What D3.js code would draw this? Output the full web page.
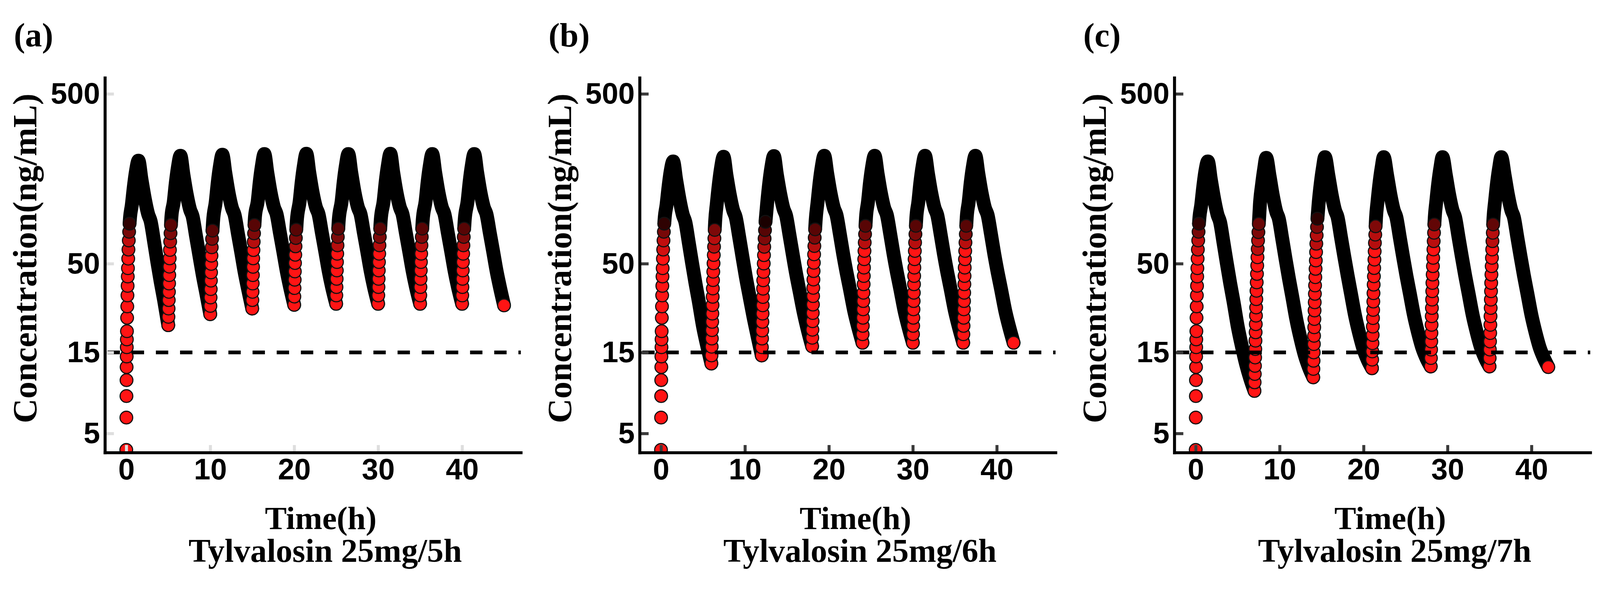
<!DOCTYPE html>
<html>
<head>
<meta charset="utf-8">
<script src="https://cdn.jsdelivr.net/npm/d3@7"></script>
<style>
  html, body { margin: 0; padding: 0; background: #fff; overflow: hidden; }
  svg { display: block; width: 100vw; height: 100vh; }
</style>
</head>
<body>
<script>
// ---- values ----
const panelTags = ["(a)", "(b)", "(c)"];
const regimens = ["Tylvalosin 25mg/5h", "Tylvalosin 25mg/6h", "Tylvalosin 25mg/7h"];
const xTitle = "Time(h)";
const yTitle = "Concentration(ng/mL)";
const yTickValues = [5, 15, 50, 500];
const xTickValues = [0, 10, 20, 30, 40];
const micLevel = 15;

// [time (h), concentration (ng/mL)] — dosing every 5 h
const seriesA = [
  [0,4.0],[0.01,6.2],[0.02,8.3],[0.03,10.3],[0.04,12.3],[0.05,14.2],[0.06,16.1],[0.07,17.9],[0.08,20],[0.10,24],[0.12,28],[0.14,32.5],[0.16,37],[0.18,42],[0.20,47],[0.23,53.5],[0.26,60.5],[0.30,68.5],[0.34,77],[0.39,86],[0.45,94],
  [0.65,110],[0.9,142],[1.15,175],[1.45,202],[1.8,158],[2.2,121],[2.6,98],[2.9,89],[3.3,68],[3.7,51],[4.1,39],[4.5,30.5],
  [5,21.7],[5.02,24.3],[5.04,27.2],[5.06,30.5],[5.08,34.1],[5.10,38.2],[5.12,42.8],[5.14,48],[5.17,53.7],[5.20,60.2],[5.23,67.4],[5.27,75.5],[5.32,84.5],[5.38,94.7],
  [5.65,115],[5.9,150],[6.15,185],[6.45,216],[6.8,168],[7.2,128],[7.6,104],[7.9,95],[8.3,73],[8.7,56],[9.1,43],[9.5,34],
  [10,25.2],[10.02,28.2],[10.04,31.6],[10.06,35.4],[10.08,39.7],[10.10,44.4],[10.12,49.8],[10.15,55.7],[10.18,62.4],[10.22,69.9],[10.27,78.3],[10.33,87.7],
  [10.65,115],[10.9,151],[11.15,187],[11.45,219],[11.8,171],[12.2,130],[12.6,106],[12.9,97],[13.3,75],[13.7,58],[14.1,44.5],[14.5,35.5],
  [15,27.2],[15.02,30.5],[15.04,34.1],[15.06,38.2],[15.08,42.8],[15.10,47.9],[15.12,53.7],[15.15,60.1],[15.18,67.3],[15.22,75.4],[15.27,84.5],[15.33,94.6],
  [15.65,116],[15.9,152],[16.15,188],[16.45,221],[16.8,172],[17.2,131],[17.6,107],[17.9,98],[18.3,76],[18.7,59],[19.1,45.5],[19.5,36.5],
  [20,28.6],[20.02,32],[20.04,35.9],[20.06,40.2],[20.08,45],[20.10,50.4],[20.13,56.4],[20.16,63.2],[20.20,70.8],[20.25,79.3],[20.31,88.8],
  [20.65,116],[20.9,152],[21.15,188],[21.45,222],[21.8,172],[22.2,131],[22.6,107],[22.9,98],[23.3,76],[23.7,59],[24.1,45.5],[24.5,36.5],
  [25,29],[25.02,32.5],[25.04,36.4],[25.06,40.7],[25.08,45.6],[25.10,51.1],[25.13,57.2],[25.16,64.1],[25.20,71.8],[25.25,80.4],[25.31,90],
  [25.65,116],[25.9,152],[26.15,188],[26.45,221],[26.8,172],[27.2,131],[27.6,107],[27.9,98],[28.3,76],[28.7,59],[29.1,45.5],[29.5,36.5],
  [30,29],[30.02,32.5],[30.04,36.4],[30.06,40.7],[30.08,45.6],[30.10,51.1],[30.13,57.2],[30.16,64.1],[30.20,71.8],[30.25,80.4],[30.31,90],
  [30.65,116],[30.9,152],[31.15,188],[31.45,222],[31.8,172],[32.2,131],[32.6,107],[32.9,98],[33.3,76],[33.7,59],[34.1,45.5],[34.5,36.5],
  [35,29],[35.02,32.5],[35.04,36.4],[35.06,40.7],[35.08,45.6],[35.10,51.1],[35.13,57.2],[35.16,64.1],[35.20,71.8],[35.25,80.4],[35.31,90],
  [35.65,116],[35.9,152],[36.15,188],[36.45,221],[36.8,172],[37.2,131],[37.6,107],[37.9,98],[38.3,76],[38.7,59],[39.1,45.5],[39.5,36.5],
  [40,29],[40.02,32.5],[40.04,36.4],[40.06,40.7],[40.08,45.6],[40.10,51.1],[40.13,57.2],[40.16,64.1],[40.20,71.8],[40.25,80.4],[40.31,90],
  [40.65,116],[40.9,152],[41.15,188],[41.45,221],[41.8,172],[42.2,131],[42.6,107],[42.9,98],[43.3,76],[43.7,59],[44.1,45.5],[44.5,36.5],
  [45,28.4]
];

// dosing every 6 h
const seriesB = [
  [0,4.0],[0.01,6.2],[0.02,8.3],[0.03,10.3],[0.04,12.3],[0.05,14.2],[0.06,16.1],[0.07,17.9],[0.08,20],[0.10,24],[0.12,28],[0.14,32.5],[0.16,37],[0.18,42],[0.20,47],[0.23,53.5],[0.26,60.5],[0.30,68.5],[0.34,77],[0.39,86],[0.45,94],
  [0.65,110],[0.9,142],[1.15,175],[1.45,200],[1.8,157],[2.2,120],[2.6,97],[2.9,88],[3.3,67],[3.7,50.5],[4.1,38.5],[4.5,30],[5.0,21.4],[5.5,16.4],
  [6,12.9],[6.02,14.4],[6.04,16.2],[6.06,18.1],[6.08,20.3],[6.10,22.7],[6.12,25.4],[6.14,28.5],[6.16,31.9],[6.18,35.7],[6.20,40],[6.23,44.8],[6.26,50.2],[6.29,56.2],[6.32,62.9],[6.36,70.5],[6.40,79],[6.45,88.4],
  [6.65,113],[6.9,148],[7.15,183],[7.45,213],[7.8,166],[8.2,127],[8.6,103],[8.9,94],[9.3,72.5],[9.7,55],[10.1,42],[10.5,33],[11.0,24.5],[11.5,18.7],
  [12,14.4],[12.02,16.1],[12.04,18.1],[12.06,20.2],[12.08,22.7],[12.10,25.4],[12.12,28.4],[12.14,31.8],[12.16,35.6],[12.18,39.9],[12.21,44.7],[12.24,50.1],[12.27,56.1],[12.30,62.8],[12.34,70.3],[12.39,78.8],[12.45,88.2],
  [12.65,114],[12.9,150],[13.15,185],[13.45,215],[13.8,168],[14.2,129],[14.6,105],[14.9,96],[15.3,74],[15.7,56.5],[16.1,43.5],[16.5,34.5],[17.0,25.8],[17.5,20.2],
  [18,16.3],[18.02,18.3],[18.04,20.4],[18.06,22.9],[18.08,25.6],[18.10,28.7],[18.12,32.2],[18.14,36],[18.16,40.3],[18.18,45.2],[18.21,50.6],[18.24,56.7],[18.27,63.5],[18.31,71.1],[18.36,79.6],[18.42,89.2],
  [18.65,115],[18.9,151],[19.15,186],[19.45,216],[19.8,170],[20.2,130],[20.6,106],[20.9,97],[21.3,75],[21.7,57],[22.1,44.5],[22.5,35.5],[23.0,26.5],[23.5,21],
  [24,17.1],[24.02,19.2],[24.04,21.5],[24.06,24],[24.08,26.9],[24.10,30.1],[24.12,33.7],[24.14,37.8],[24.16,42.3],[24.18,47.4],[24.21,53.1],[24.24,59.4],[24.27,66.6],[24.31,74.6],[24.36,83.5],[24.42,93.5],
  [24.65,115],[24.9,151],[25.15,186],[25.45,216],[25.8,170],[26.2,130],[26.6,106],[26.9,97],[27.3,75],[27.7,57],[28.1,44.5],[28.5,35.5],[29.0,26.5],[29.5,21],
  [30,17.1],[30.02,19.2],[30.04,21.5],[30.06,24],[30.08,26.9],[30.10,30.1],[30.12,33.7],[30.14,37.8],[30.16,42.3],[30.18,47.4],[30.21,53.1],[30.24,59.4],[30.27,66.6],[30.31,74.6],[30.36,83.5],[30.42,93.5],
  [30.65,115],[30.9,151],[31.15,186],[31.45,216],[31.8,170],[32.2,130],[32.6,106],[32.9,97],[33.3,75],[33.7,57],[34.1,44.5],[34.5,35.5],[35.0,26.5],[35.5,21],
  [36,17.1],[36.02,19.2],[36.04,21.5],[36.06,24],[36.08,26.9],[36.10,30.1],[36.12,33.7],[36.14,37.8],[36.16,42.3],[36.18,47.4],[36.21,53.1],[36.24,59.4],[36.27,66.6],[36.31,74.6],[36.36,83.5],[36.42,93.5],
  [36.65,115],[36.9,151],[37.15,186],[37.45,216],[37.8,170],[38.2,130],[38.6,106],[38.9,97],[39.3,75],[39.7,57],[40.1,44.5],[40.5,35.5],[41.0,26.5],[41.5,21],
  [42,17.1]
];

// dosing every 7 h
const seriesC = [
  [0,4.0],[0.01,6.2],[0.02,8.3],[0.03,10.3],[0.04,12.3],[0.05,14.2],[0.06,16.1],[0.07,17.9],[0.08,20],[0.10,24],[0.12,28],[0.14,32.5],[0.16,37],[0.18,42],[0.20,47],[0.23,53.5],[0.26,60.5],[0.30,68.5],[0.34,77],[0.39,86],[0.45,94],
  [0.65,110],[0.9,142],[1.15,175],[1.45,200],[1.8,157],[2.2,120],[2.6,97],[2.9,88],[3.3,67],[3.7,50.5],[4.1,38.5],[4.5,30],[5.0,21.4],[5.5,16.3],[6.0,12.8],[6.5,10.5],
  [7,8.9],[7.02,10],[7.04,11.2],[7.06,12.5],[7.08,14],[7.10,15.7],[7.12,17.6],[7.14,19.7],[7.16,22],[7.18,24.7],[7.20,27.6],[7.22,30.9],[7.24,34.6],[7.27,38.8],[7.30,43.5],[7.33,48.7],[7.36,54.5],[7.39,61],[7.43,68.4],[7.47,76.6],[7.52,85.8],
  [7.65,112],[7.9,146],[8.15,180],[8.4,210],[8.8,164],[9.2,125],[9.6,101],[9.9,92],[10.3,70.5],[10.7,53.5],[11.1,41],[11.5,32],[12.0,23.3],[12.5,18],[13.0,14.4],[13.5,12.2],
  [14,10.7],[14.02,12],[14.04,13.4],[14.06,15],[14.08,16.8],[14.10,18.8],[14.12,21.1],[14.14,23.6],[14.16,26.5],[14.18,29.6],[14.20,33.2],[14.22,37.2],[14.25,41.6],[14.28,46.6],[14.31,52.2],[14.34,58.5],[14.37,65.5],[14.41,73.4],[14.45,82.2],[14.50,92],
  [14.65,114],[14.9,149],[15.15,183],[15.4,212],[15.8,166],[16.2,127],[16.6,103],[16.9,94],[17.3,72],[17.7,55],[18.1,42.5],[18.5,33.2],[19.0,24.5],[19.5,19.2],[20.0,15.6],[20.5,13.5],
  [21,12.1],[21.02,13.6],[21.04,15.2],[21.06,17],[21.08,19],[21.10,21.3],[21.12,23.9],[21.14,26.7],[21.16,29.9],[21.18,33.5],[21.20,37.6],[21.23,42.1],[21.26,47.1],[21.29,52.8],[21.32,59.1],[21.35,66.2],[21.39,74.1],[21.43,83],[21.48,93],
  [21.65,115],[21.9,150],[22.15,184],[22.4,212],[22.8,166],[23.2,127],[23.6,103],[23.9,94],[24.3,72],[24.7,55],[25.1,42.5],[25.5,33.5],[26.0,24.8],[26.5,19.5],[27.0,15.9],[27.5,13.8],
  [28,12.4],[28.02,13.9],[28.04,15.6],[28.06,17.4],[28.08,19.5],[28.10,21.8],[28.12,24.5],[28.14,27.4],[28.16,30.7],[28.18,34.4],[28.20,38.5],[28.23,43.1],[28.26,48.3],[28.29,54.1],[28.32,60.6],[28.35,67.8],[28.39,76],[28.43,85.1],[28.48,94],
  [28.65,115],[28.9,150],[29.15,184],[29.4,212],[29.8,166],[30.2,127],[30.6,103],[30.9,94],[31.3,72],[31.7,55],[32.1,42.5],[32.5,33.5],[33.0,24.8],[33.5,19.5],[34.0,15.9],[34.5,13.8],
  [35,12.4],[35.02,13.9],[35.04,15.6],[35.06,17.4],[35.08,19.5],[35.10,21.8],[35.12,24.5],[35.14,27.4],[35.16,30.7],[35.18,34.4],[35.20,38.5],[35.23,43.1],[35.26,48.3],[35.29,54.1],[35.32,60.6],[35.35,67.8],[35.39,76],[35.43,85.1],[35.48,94],
  [35.65,115],[35.9,150],[36.15,184],[36.4,212],[36.8,166],[37.2,127],[37.6,103],[37.9,94],[38.3,72],[38.7,55],[39.1,42.5],[39.5,33.5],[40.0,24.8],[40.5,19.5],[41.0,15.9],[41.5,13.8],
  [42,12.3]
];

const allSeries = [seriesA, seriesB, seriesC];

// ---- layout ----
const W = 4270, H = 1528;
const plotW = 1110, plotH = 1000, plotTop = 175;
const panelLeft = [280, 1707, 3134];
const tickColor = ["#dedede", "#3a3a3a", "#3a3a3a"];
const serif = "'Liberation Serif', 'Times New Roman', serif";
const sans = "'Liberation Sans', Arial, sans-serif";

// viewBox keeps the whole figure inside the window whatever its css size
const svg = d3.select("body").append("svg")
  .attr("viewBox", `0 0 ${W} ${H}`)
  .attr("preserveAspectRatio", "xMidYMid meet")
  .style("background", "#fff");

const x = d3.scaleLinear().domain([-2.545, 47.0]).range([0, plotW]);
const y = d3.scaleLog().domain([3.86, 622]).range([plotH, 0]);

// dense sampling shows red; where points crowd together the dark outlines take over
const redRamp = d3.scaleLinear().domain([250, 700]).range(["#1a0000", "#ff1414"])
  .interpolate(d3.interpolateRgb).clamp(true);

const line = d3.line().x(d => d.px).y(d => d.py).curve(d3.curveMonotoneX);

allSeries.forEach((series, k) => {
  const g = svg.append("g").attr("transform", `translate(${panelLeft[k]},${plotTop})`);

  g.append("clipPath").attr("id", "clip" + k)
    .append("rect")
    .attr("x", -40).attr("y", -60)
    .attr("width", plotW + 80).attr("height", plotH + 60);

  const marks = g.append("g").attr("clip-path", `url(#clip${k})`);

  const pts = series.map(d => ({ t: d[0], c: d[1], px: x(d[0]), py: y(d[1]) }));
  pts.forEach((d, i) => {
    const n = pts[i + 1];
    d.rate = n ? (d.py - n.py) / (n.t - d.t) : 0; // pixels per hour, upward
    d.col = d.rate > 250;
  });

  // split into rising columns and dark bands
  const runs = [];
  pts.forEach(d => {
    const last = runs[runs.length - 1];
    if (last && last.col === d.col) last.pts.push(d);
    else runs.push({ col: d.col, pts: [d] });
  });
  runs.forEach((r, i) => {
    if (r.col) return;
    const prev = runs[i - 1], next = runs[i + 1];
    if (prev) r.pts.unshift(prev.pts[prev.pts.length - 1]);
    if (next) r.pts.push(next.pts[0]);
  });

  function drawBand(r) {
    marks.append("path")
      .datum(r.pts)
      .attr("d", line)
      .attr("fill", "none")
      .attr("stroke", "#000")
      .attr("stroke-width", 37)
      .attr("stroke-linecap", "round")
      .attr("stroke-linejoin", "round");
  }

  function drawColumn(r) {
    marks.append("g")
      .selectAll("circle")
      .data(r.pts)
      .join("circle")
      .attr("cx", d => d.px)
      .attr("cy", d => d.py)
      .attr("r", 17)
      .attr("fill", d => redRamp(d.rate))
      .attr("stroke", "#111")
      .attr("stroke-width", 3);
  }

  for (let i = 0; i < runs.length; i++) {
    const r = runs[i];
    if (!r.col) { if (i === 0) drawBand(r); continue; }
    if (runs[i + 1]) drawBand(runs[i + 1]);
    drawColumn(r);
  }

  // last sample sits on top
  const lastPt = pts[pts.length - 1];
  marks.append("circle")
    .attr("cx", lastPt.px).attr("cy", lastPt.py).attr("r", 17)
    .attr("fill", "#ff1414").attr("stroke", "#111").attr("stroke-width", 3);

  // MIC reference line
  g.append("line")
    .attr("x1", 0).attr("x2", plotW)
    .attr("y1", y(micLevel)).attr("y2", y(micLevel))
    .attr("stroke", "#000")
    .attr("stroke-width", 10)
    .attr("stroke-dasharray", "33,31.5")
    .attr("stroke-dashoffset", -7);

  // axes
  const yAxis = g.append("g")
    .call(d3.axisLeft(y).tickValues(yTickValues).tickFormat(d3.format("d"))
      .tickSize(-24).tickSizeOuter(0).tickPadding(13));
  const xAxis = g.append("g")
    .attr("transform", `translate(0,${plotH})`)
    .call(d3.axisBottom(x).tickValues(xTickValues).tickFormat(d3.format("d"))
      .tickSize(-20).tickSizeOuter(0).tickPadding(16));

  [yAxis, xAxis].forEach(ax => {
    ax.selectAll(".tick line").attr("stroke", tickColor[k]).attr("stroke-width", 8);
    ax.select(".domain")
      .attr("stroke", "#000")
      .attr("stroke-width", 8)
      .attr("stroke-linecap", "square")
      .raise();
    ax.selectAll(".tick text")
      .attr("fill", "#000")
      .attr("font-family", sans)
      .attr("font-weight", "bold")
      .attr("font-size", 79);
  });

  // titles
  g.append("text")
    .attr("x", -243).attr("y", -83)
    .attr("font-family", serif).attr("font-weight", "bold").attr("font-size", 90)
    .text(panelTags[k]);

  g.append("text")
    .attr("transform", "translate(-183,482) rotate(-90)")
    .attr("text-anchor", "middle")
    .attr("font-family", serif).attr("font-weight", "bold").attr("font-size", 91)
    .text(yTitle);

  g.append("text")
    .attr("x", 576).attr("y", 1204)
    .attr("text-anchor", "middle")
    .attr("font-family", serif).attr("font-weight", "bold").attr("font-size", 87)
    .text(xTitle);

  g.append("text")
    .attr("x", 588).attr("y", 1292)
    .attr("text-anchor", "middle")
    .attr("font-family", serif).attr("font-weight", "bold").attr("font-size", 88)
    .text(regimens[k]);
});
</script>
</body>
</html>
